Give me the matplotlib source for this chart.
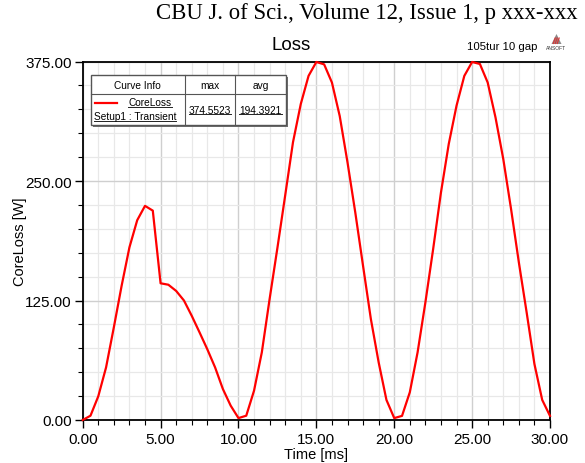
import matplotlib
matplotlib.use("Agg")
import matplotlib.pyplot as plt
import numpy as np
from matplotlib.ticker import MultipleLocator, FormatStrFormatter
from matplotlib.patches import Rectangle, Polygon
from matplotlib.lines import Line2D

# ---- data ----
time_ms = [i * 0.5 for i in range(61)]
core_loss = [
    0.0, 4.5, 24.8, 55.0, 97.0, 140.5, 180.6, 209.0, 224.0, 219.0,
    143.0, 141.5, 135.0, 125.0, 109.0, 91.7, 74.0, 55.0, 32.4, 15.0,
    2.0, 4.5, 30.7, 70.8, 126.6, 180.0, 235.0, 290.5, 330.5, 360.0,
    374.5, 372.0, 353.0, 318.0, 269.5, 217.0, 161.0, 105.6, 60.3, 21.0,
    2.0, 4.3, 29.0, 70.8, 123.0, 179.0, 238.0, 288.7, 328.8, 360.0,
    374.5, 372.4, 353.0, 316.6, 273.0, 220.7, 164.9, 112.6, 58.6, 21.0,
    4.3,
]
x_ticks = [0, 5, 10, 15, 20, 25, 30]
y_ticks = [0, 125, 250, 375]
curve_max = "374.5523"
curve_avg = "194.3921"

W, H = 585, 464
fig = plt.figure(figsize=(W / 100, H / 100), dpi=100)
ax_left, ax_right, ax_top, ax_bot = 82.7, 550, 62.5, 421
ax = fig.add_axes([ax_left / W, 1 - ax_bot / H, (ax_right - ax_left) / W, (ax_bot - ax_top) / H])

sans = ['Liberation Sans', 'DejaVu Sans']

ax.plot(time_ms, core_loss, color='#ff0000', lw=1.6, zorder=3, clip_on=False)
ax.set_xlim(x_ticks[0], x_ticks[-1])
ax.set_ylim(y_ticks[0], y_ticks[-1])
ax.set_xticks(x_ticks)
ax.set_yticks(y_ticks)
ax.xaxis.set_minor_locator(MultipleLocator(1))
ax.yaxis.set_minor_locator(MultipleLocator(25))
ax.xaxis.set_major_formatter(FormatStrFormatter('%.2f'))
ax.yaxis.set_major_formatter(FormatStrFormatter('%.2f'))
ax.grid(which='major', color='#cfcfcf', lw=1.0, zorder=0)
ax.grid(which='minor', color='#e8e8e8', lw=0.9, zorder=0)
ax.set_axisbelow(True)
ax.tick_params(which='major', direction='out', length=6, width=1, color='black')
ax.tick_params(axis='x', which='major', pad=2.5)
ax.tick_params(axis='y', which='major', pad=2)
ax.tick_params(which='minor', direction='out', length=3.5, width=0.8, color='black')
for s in ax.spines.values():
    s.set_linewidth(1.3)
    s.set_color('black')
for lab in ax.get_xticklabels() + ax.get_yticklabels():
    lab.set_family(sans)
    lab.set_fontsize(11)
ax.set_xlabel('Time [ms]', family=sans, fontsize=10.5, va='center')
ax.xaxis.set_label_coords(0.5, (ax_bot - 455) / (ax_bot - ax_top))
ax.set_ylabel('CoreLoss [W]', family=sans, fontsize=10.5, va='center')
ax.yaxis.set_label_coords((20 - ax_left) / (ax_right - ax_left), 0.5)

# header / title
fig.text(578 / W, 1 - 14 / H, 'CBU J. of Sci., Volume 12, Issue 1, p xxx-xxx',
         ha='right', va='center', family=['Liberation Serif', 'DejaVu Serif'], fontsize=16.4)
fig.text(291 / W, 1 - 46 / H, 'Loss', ha='center', va='center', family=sans, fontsize=13.5)
fig.text(502 / W, 1 - 47 / H, '105tur 10 gap', ha='center', va='center', family=sans, fontsize=8.2)

# ANSOFT logo
lx = 556.5
tri = Polygon([[(lx - 5) / W, 1 - 45 / H], [(lx + 5) / W, 1 - 45 / H], [lx / W, 1 - 35 / H]],
              closed=True, transform=fig.transFigure, facecolor='#8a8a8a', edgecolor='none')
fig.add_artist(tri)
for dx in (-2.0, 0.0, 2.0):
    fig.add_artist(Line2D([(lx + dx - 1.3) / W, (lx + dx + 0.7) / W],
                          [1 - 44.5 / H, 1 - 39 / H], transform=fig.transFigure,
                          color='#e03030', lw=0.8))
fig.text(lx / W, 1 - 48.5 / H, 'ANSOFT', ha='center', va='center', family=sans, fontsize=3.6,
         color='#333333')

# legend table
def fx(px):
    return px / W

def fy(py):
    return 1 - py / H

x0, x1, y0, y1 = 91, 286, 76, 126
shadow = Rectangle((fx(x0 + 2), fy(y1 + 2)), fx(x1 - x0), (y1 - y0) / H, transform=fig.transFigure,
                   facecolor='#6e6e6e', edgecolor='none', zorder=5)
fig.add_artist(shadow)
box = Rectangle((fx(x0), fy(y1)), fx(x1 - x0), (y1 - y0) / H, transform=fig.transFigure,
                facecolor='white', edgecolor='#555555', lw=1.0, zorder=6)
fig.add_artist(box)
for xs, ys in ([[x0, x1], [95, 95]], [[185, 185], [y0, y1]], [[235, 235], [y0, y1]]):
    fig.add_artist(Line2D([fx(v) for v in xs], [fy(v) for v in ys], transform=fig.transFigure,
                          color='#555555', lw=0.8, zorder=7))
fig.add_artist(Line2D([fx(95), fx(117)], [fy(103.5), fy(103.5)], transform=fig.transFigure,
                      color='#ff0000', lw=1.6, zorder=7))

tk = dict(ha='center', va='center', family=sans, fontsize=7.3, zorder=8)
fig.text(fx(137), fy(86), 'Curve Info', **tk)
fig.text(fx(210), fy(86), 'max', **tk)
fig.text(fx(260.5), fy(86), 'avg', **tk)
underlined = [
    fig.text(fx(150), fy(103.5), 'CoreLoss', **tk),
    fig.text(fx(135), fy(117), 'Setup1 : Transient', **tk),
    fig.text(fx(210), fy(110.5), curve_max, **tk),
    fig.text(fx(260.5), fy(110.5), curve_avg, **tk),
]
fig.canvas.draw()
r = fig.canvas.get_renderer()
for t in underlined:
    bb = t.get_window_extent(r)
    yb = bb.y0 + 0.5
    fig.add_artist(Line2D([bb.x0 / W, bb.x1 / W], [yb / H, yb / H], transform=fig.transFigure,
                          color='#222222', lw=0.7, zorder=8))

fig.savefig('out.png', dpi=100)
